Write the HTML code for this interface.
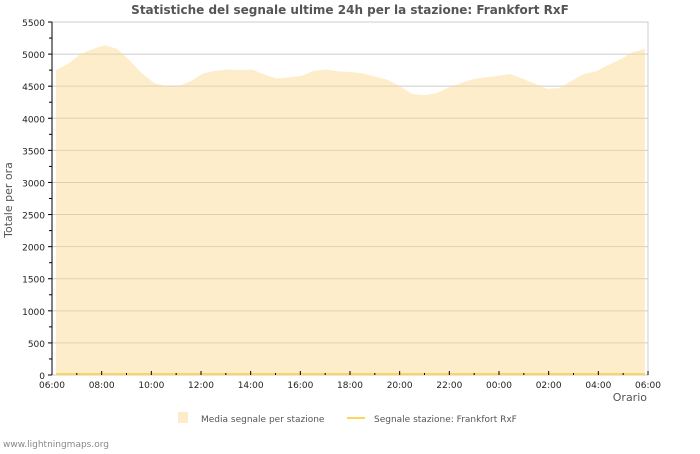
<!DOCTYPE html>
<html><head><meta charset="utf-8"><style>
body{margin:0;background:#fff;font-family:"DejaVu Sans","Liberation Sans",sans-serif;}
svg text{font-family:"DejaVu Sans","Liberation Sans",sans-serif;}
</style></head><body>
<svg id="c" width="700" height="450" xmlns="http://www.w3.org/2000/svg">
<text x="350" y="14" text-anchor="middle" font-size="12" font-weight="bold" fill="#555">Statistiche del segnale ultime 24h per la stazione: Frankfort RxF</text>
<g id="grid"></g><g id="area"></g><g id="axes"></g>
<text transform="translate(12,200) rotate(-90)" text-anchor="middle" font-size="11" fill="#555">Totale per ora</text>
<text x="647" y="401" text-anchor="end" font-size="11" fill="#555">Orario</text>
<g><rect x="178" y="412" width="10" height="11" fill="#fdebc9"/><text x="201" y="422" font-size="9" fill="#555">Media segnale per stazione</text></g>
<g><line x1="347" y1="418" x2="365" y2="418" stroke="#fdd55a" stroke-width="2"/><text x="374" y="422" font-size="9" fill="#555">Segnale stazione: Frankfort RxF</text></g>
<text x="3" y="447" font-size="9" fill="#888">www.lightningmaps.org</text>
</svg>
<script>
const avgValues=[4750,4850,5000,5080,5140,5080,4900,4700,4550,4500,4500,4580,4700,4740,4760,4750,4760,4680,4620,4640,4660,4740,4760,4730,4720,4700,4650,4600,4500,4380,4360,4390,4480,4550,4610,4640,4660,4690,4620,4540,4460,4470,4580,4690,4730,4830,4920,5030,5080];
const stationValues=avgValues.map(()=>0);
const xTickLabels=["06:00","08:00","10:00","12:00","14:00","16:00","18:00","20:00","22:00","00:00","02:00","04:00","06:00"];
const yTicks=[0,500,1000,1500,2000,2500,3000,3500,4000,4500,5000,5500];
const X0=52,X1=648,Y0=375,Y1=22,YMAX=5500;
const NS="http://www.w3.org/2000/svg";
const xs=i=>X0+4+(X1-X0-7)*i/(avgValues.length-1);
const ys=v=>Y0-(Y0-Y1)*v/YMAX;
function mk(t,a,p){const e=document.createElementNS(NS,t);for(const k in a)e.setAttribute(k,a[k]);p.appendChild(e);return e;}
const grid=document.getElementById('grid'),axes=document.getElementById('axes'),area=document.getElementById('area');
yTicks.forEach(v=>{
 const y=ys(v);
 const g=mk('line',{x1:X0,x2:X1,y1:y,y2:y,stroke:'#ccc','stroke-width':1},grid);
 
 
 const t=mk('text',{x:X0-7,y:y+4,'text-anchor':'end','font-size':9,fill:'#222'},axes);
 t.textContent=v;
 
 
 mk('line',{x1:X0-4,x2:X0,y1:y,y2:y,stroke:'#000'},axes);
 if(v<YMAX)mk('line',{x1:X0-3,x2:X0,y1:y-(Y0-Y1)/22,y2:y-(Y0-Y1)/22,stroke:'#000'},axes);
});
mk('rect',{x:X0,y:Y1,width:X1-X0,height:Y0-Y1,fill:'none',stroke:'#ccc'},grid);
let d=`M${xs(0)},${Y0} L${xs(0)},${ys(avgValues[0]-450)}`;
avgValues.forEach((v,i)=>d+=` L${xs(i)},${ys(v)}`);
d+=` L${xs(avgValues.length-1)},${Y0} Z`;
const p=mk('path',{d:d,fill:'rgb(252,215,140)','fill-opacity':0.45},area);


let d2='';stationValues.forEach((v,i)=>d2+=(i?' L':'M')+xs(i)+','+(ys(v)-1));
const l=mk('path',{d:d2,fill:'none',stroke:'#fdd55a','stroke-width':2},area);


mk('line',{x1:X0,x2:X0,y1:Y1,y2:Y0,stroke:'#000'},axes);
xTickLabels.forEach((s,i)=>{
 const x=X0+(X1-X0)*i/(xTickLabels.length-1);
 const t=mk('text',{x:x,y:Y0+13,'text-anchor':'middle','font-size':9,fill:'#222'},axes);
 t.textContent=s;
 
 
 mk('line',{x1:x,x2:x,y1:Y0-4,y2:Y0,stroke:'#000'},axes);
 if(i<xTickLabels.length-1)mk('line',{x1:x+(X1-X0)/24,x2:x+(X1-X0)/24,y1:Y0-2,y2:Y0,stroke:'#000'},axes);
});
</script>
</body></html>
